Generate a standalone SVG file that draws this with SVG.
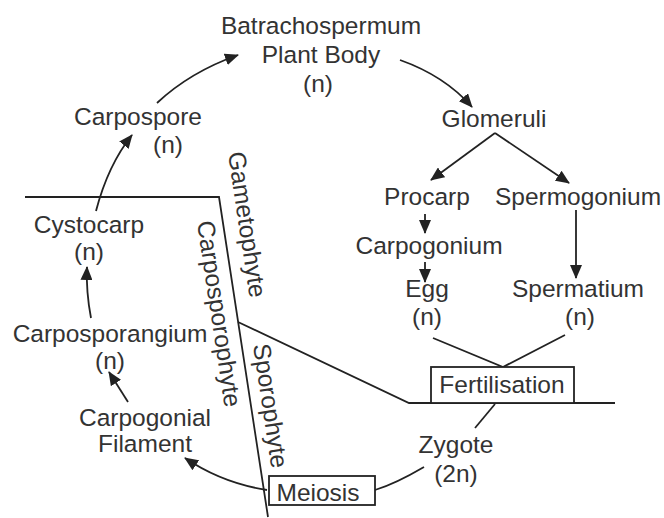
<svg xmlns="http://www.w3.org/2000/svg" width="664" height="518" viewBox="0 0 664 518">
<defs>
<style>
text{font-family:"Liberation Sans",Arial,sans-serif;font-size:24.5px;fill:#333;text-anchor:middle}
text.r{text-anchor:start}
.ln{stroke:#222;stroke-width:1.8;fill:none}
.box{stroke:#222;stroke-width:1.8;fill:#fff}
.ar{stroke:#222;stroke-width:1.8;fill:none;marker-end:url(#ah)}
</style>
<marker id="ah" markerUnits="userSpaceOnUse" markerWidth="14" markerHeight="12" refX="13" refY="6" orient="auto" viewBox="0 0 14 12">
<path d="M0,0 L14,6 L0,12 z" fill="#222"/>
</marker>
</defs>
<rect width="664" height="518" fill="#fff"/>
<g id="dividers">
<path class="ln" d="M25,197 L219,197 L268,517"/>
<path class="ln" d="M238,322 L409,403 L615,403"/>
</g>
<g id="connectors">
<path class="ar" d="M157,103 Q190,72 238,55"/>
<path class="ar" d="M400,60 Q445,76 472,107"/>
<path class="ar" d="M495,133 L431,180"/>
<path class="ar" d="M495,133 L569,183"/>
<path class="ar" d="M425,214 L425,233"/>
<path class="ar" d="M425,262 L425,282"/>
<path class="ar" d="M576,210 L576,278"/>
<path class="ln" d="M433,338 L503,367 L565,335"/>
<path class="ln" d="M495,404 L475,428"/>
<path class="ln" d="M424,467 Q395,484 375,490"/>
<path class="ar" d="M267,490 Q222,483 185,458"/>
<path class="ar" d="M128,402 L109,372"/>
<path class="ar" d="M91,318 Q86,292 87,267"/>
<path class="ar" d="M96,211 Q108,165 132,135"/>
</g>
<g id="batrachospermum"><text x="321" y="34">Batrachospermum</text><text x="321" y="63">Plant Body</text><text x="318" y="92">(n)</text></g>
<g id="glomeruli"><text x="494" y="127">Glomeruli</text></g>
<g id="procarp"><text x="427" y="205">Procarp</text></g>
<g id="spermogonium"><text x="578" y="205">Spermogonium</text></g>
<g id="carpogonium"><text x="429" y="254">Carpogonium</text></g>
<g id="egg"><text x="427" y="297">Egg</text><text x="427" y="325">(n)</text></g>
<g id="spermatium"><text x="578" y="297">Spermatium</text><text x="580" y="325">(n)</text></g>
<g id="fertilisation"><rect class="box" x="431" y="367" width="143" height="36"/><text x="502" y="393">Fertilisation</text></g>
<g id="zygote"><text x="456" y="453">Zygote</text><text x="456" y="482">(2n)</text></g>
<g id="meiosis"><rect class="box" x="269" y="476" width="106" height="29"/><text x="318" y="501">Meiosis</text></g>
<g id="carpogonial"><text x="145" y="426">Carpogonial</text><text x="145" y="452">Filament</text></g>
<g id="carposporangium"><text x="110" y="342">Carposporangium</text><text x="110" y="369">(n)</text></g>
<g id="cystocarp"><text x="89" y="233">Cystocarp</text><text x="89" y="260">(n)</text></g>
<g id="carpospore"><text x="138" y="125">Carpospore</text><text x="168" y="153">(n)</text></g>
<g id="phases">
<text class="r" transform="translate(228,153) rotate(81.5)">Gametophyte</text>
<text class="r" transform="translate(197,222) rotate(81.5)">Carposporophyte</text>
<text class="r" transform="translate(253,345) rotate(81.5)">Sporophyte</text>
</g>
</svg>
